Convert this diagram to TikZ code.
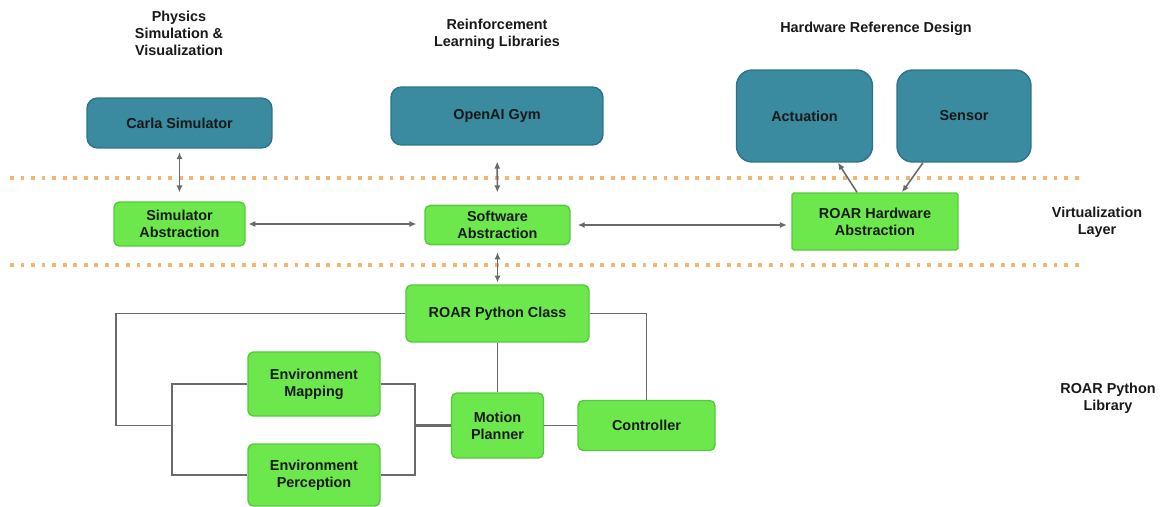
\documentclass[tikz,border=0pt]{standalone}
\usepackage{fontspec}
\setmainfont{Liberation Sans}
\usetikzlibrary{arrows.meta}
\definecolor{tealbox}{HTML}{3A8AA0}
\definecolor{tealedge}{HTML}{2C7388}
\definecolor{greenbox}{HTML}{6CE84C}
\definecolor{greenedge}{HTML}{55C83B}
\definecolor{dotorange}{HTML}{F2B670}
\definecolor{linegray}{HTML}{6A6A6A}
\begin{document}
\begin{tikzpicture}[x=0.02cm, y=-0.02cm,
    every node/.style={font=\bfseries\fontsize{8.2}{9.6}\selectfont, text=black!90, align=center},
    hwbox/.style={draw=tealedge, fill=tealbox, rounded corners=6pt, line width=0.8pt},
    absbox/.style={draw=greenedge, fill=greenbox, rounded corners=3pt, line width=0.8pt},
    dotline/.style={dotorange, line width=2.2pt, dash pattern=on 2.2pt off 3.8pt},
    arr/.style={linegray, line width=0.9pt, {Latex[length=4pt,width=3.5pt]}-{Latex[length=4pt,width=3.5pt]}},
    link/.style={linegray, line width=1.1pt}]
\useasboundingbox (0,0) rectangle (1164,507);
% layer borders
\draw[dotline] (10,178) -- (1082,178);
\draw[dotline] (10,265) -- (1082,265);
% column headings
\node (physics) at (179,33) {Physics\\Simulation \&\\Visualization};
\node (rl) at (497,34) {Reinforcement\\Learning Libraries};
\node (hwref) at (876,29) {Hardware Reference Design};
\node (virt) at (1097,222) {Virtualization\\Layer};
\node (pylib) at (1108,398) {ROAR Python\\Library};
% top row
\node[hwbox, minimum width=3.7cm, minimum height=1cm] (carla) at (179.5,123) {Carla Simulator};
\node[hwbox, minimum width=4.24cm, minimum height=1.16cm] (gym) at (497,116) {OpenAI Gym};
\node[hwbox, rounded corners=9pt, minimum width=2.72cm, minimum height=1.84cm] (act) at (804.5,116) {Actuation};
\node[hwbox, rounded corners=9pt, minimum width=2.68cm, minimum height=1.84cm] (sens) at (964,116) {Sensor};
% virtualization layer
\node[absbox, minimum width=2.62cm, minimum height=0.88cm] (simabs) at (179.5,224) {Simulator\\Abstraction};
\node[absbox, minimum width=2.9cm, minimum height=0.78cm] (swabs) at (497.5,225) {Software\\Abstraction};
\node[absbox, rounded corners=1pt, minimum width=3.32cm, minimum height=1.14cm] (hwabs) at (875,221.5) {ROAR Hardware\\Abstraction};
% python library
\node[absbox, minimum width=3.66cm, minimum height=1.14cm] (pyclass) at (497.5,313.5) {ROAR Python Class};
\node[absbox, minimum width=2.64cm, minimum height=1.28cm] (envmap) at (314,384) {Environment\\Mapping};
\node[absbox, minimum width=2.64cm, minimum height=1.24cm] (envper) at (314,475) {Environment\\Perception};
\node[absbox, minimum width=1.84cm, minimum height=1.3cm] (planner) at (497.5,425.5) {Motion\\Planner};
\node[absbox, minimum width=2.74cm, minimum height=1cm] (ctrl) at (646.5,425.5) {Controller};
\coordinate (outer) at (116,425.5);
\coordinate (lbus) at (172,425.5);
\coordinate (rbus) at (415,425.5);
% arrows
\draw[arr, shorten <=2pt, shorten >=5pt] (carla) -- (simabs);
\draw[arr, shorten <=9pt, shorten >=7pt] (gym) -- (swabs);
\draw[arr, line width=1.3pt, shorten <=1.5pt, shorten >=4.5pt] (simabs.east) -- (simabs.east -| swabs.west);
\draw[arr, line width=1.3pt, shorten <=4pt, shorten >=2.5pt] (swabs.east) -- (swabs.east -| hwabs.west);
\draw[arr, shorten <=4pt, shorten >=1pt] (swabs) -- (pyclass);
\draw[linegray, line width=0.9pt, -{Latex[length=4pt,width=3.5pt]}] ([xshift=-0.36cm]hwabs.north) -- ([xshift=0.67cm]act.south);
\draw[linegray, line width=0.9pt, -{Latex[length=4pt,width=3.5pt]}] ([xshift=-0.82cm]sens.south) -- ([xshift=0.54cm]hwabs.north);
% links
\draw[link] (pyclass.west) -| (outer) -- (lbus);
\draw[link] (envmap.west) -| (lbus);
\draw[link] (envper.west) -| (lbus);
\draw[link] (envmap.east) -| (rbus);
\draw[link] (envper.east) -| (rbus);
\draw[link, line width=1.7pt] (rbus) -- (planner.west);
\draw[link] (pyclass) -- (planner);
\draw[link] (planner) -- (ctrl);
\draw[link] (pyclass.east) -| (ctrl.north);
\end{tikzpicture}
\end{document}
